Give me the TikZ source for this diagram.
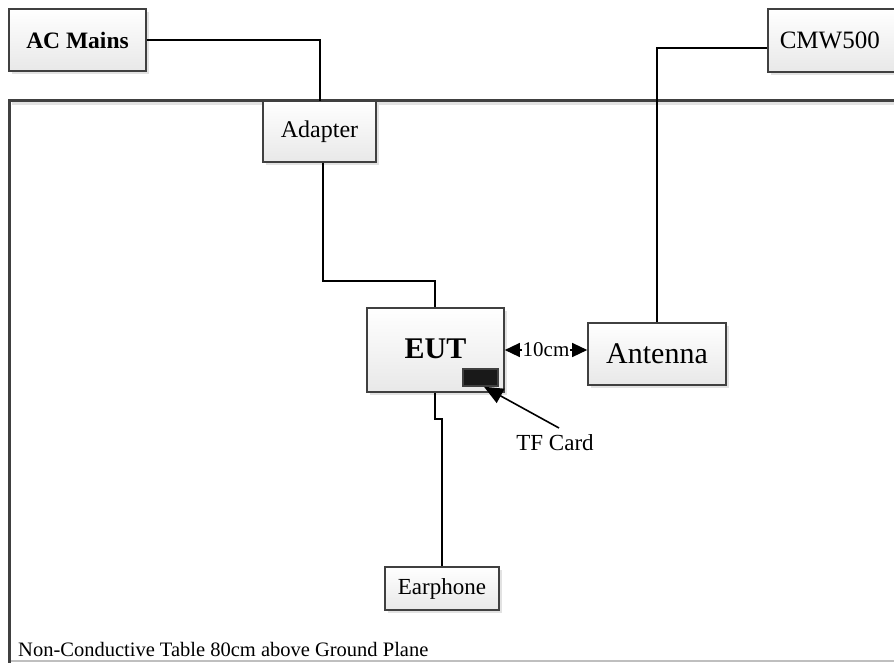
\documentclass[tikz,border=0pt]{standalone}
\usepackage{fontspec}
\setmainfont{Liberation Serif}
\usetikzlibrary{arrows.meta,shadows}
\definecolor{boxline}{HTML}{404040}
\definecolor{shadowc}{HTML}{E2E2E2}
\begin{document}
\begin{tikzpicture}[x=1pt,y=-1pt,
  unit/.style={draw=boxline, line width=1.6pt, top color=white, bottom color=black!9,
    inner sep=0pt, font=\fontsize{#1}{#1}\selectfont,
    drop shadow={shadow xshift=3pt, shadow yshift=-3pt, fill=shadowc, opacity=1}},
  unit/.default=23,
  wire/.style={line width=1.3pt, black},
  tip/.style={-{Triangle[length=15pt,width=14pt]}, line width=1.3pt},
  bigtip/.style={-{Triangle[length=19pt,width=16pt]}, line width=1.6pt}]
\useasboundingbox (0,0) rectangle (894,662);
\begin{scope}
\clip (0,0) rectangle (894,662);
% table
\draw[shadowc, line width=3pt] (12,103) -- (900,103);
\draw[line width=2pt, black!25] (9,661) -- (900,661);
\draw[boxline, line width=3pt] (9.5,665) -- (9.5,100) -- (900,100);
% boxes
\node[unit=23.5, minimum width=137pt, minimum height=62pt] (ac) at (77.5,40) {\textbf{AC Mains}};
\node[unit=25, minimum width=140pt, minimum height=63pt, anchor=west] (cmw) at (767,40.5) {\hspace*{-16pt}CMW500};
\end{scope}
\node[unit=24, minimum width=113pt, minimum height=61pt] (ad) at (319.5,131.5) {Adapter};
\node[unit=30, minimum width=137pt, minimum height=84pt] (eut) at (435.5,350) {\raisebox{2pt}{\textbf{EUT}}};
\node[unit=30, minimum width=138pt, minimum height=62pt] (ant) at (657,354) {Antenna};
\node[unit=23, minimum width=114pt, minimum height=43pt] (ear) at (442,588.5) {Earphone};
% TF card slot
\node[draw=boxline, line width=1.5pt, fill=black!90, minimum width=35pt, minimum height=17pt, inner sep=0pt] (tf) at (480.5,377.5) {};
% wires
\draw[wire] (ac.east |- 0,40) -| (320,101);
\draw[wire] (ad.south -| 323,0) -- (323,281) -| (eut.north -| 435,0);
\draw[wire] (cmw.west |- 0,48) -| (ant.north -| 657,0);
\draw[wire] (eut.south -| 435,0) -- (435,419) -- (442,419) -- (ear.north);
% 10cm
\node[font=\fontsize{21}{21}\selectfont, inner sep=0.5pt, fill=white] (dist) at (546,350) {10cm};
\draw[tip] (dist.west) -- (eut.east |- 0,350);
\draw[tip] (dist.east) -- (ant.west |- 0,350);
% TF card label
\node[font=\fontsize{23}{23}\selectfont, inner sep=0pt] (tfl) at (555,443) {TF Card};
\coordinate (tfs) at (559,428);
\draw[bigtip] (tfs) -- (tf.south -| 484,0);
% bottom label
\node[font=\fontsize{20.5}{20.5}\selectfont, anchor=base west, inner sep=0pt] (tbl) at (18,656) {Non-Conductive Table 80cm above Ground Plane};
\end{tikzpicture}
\end{document}
